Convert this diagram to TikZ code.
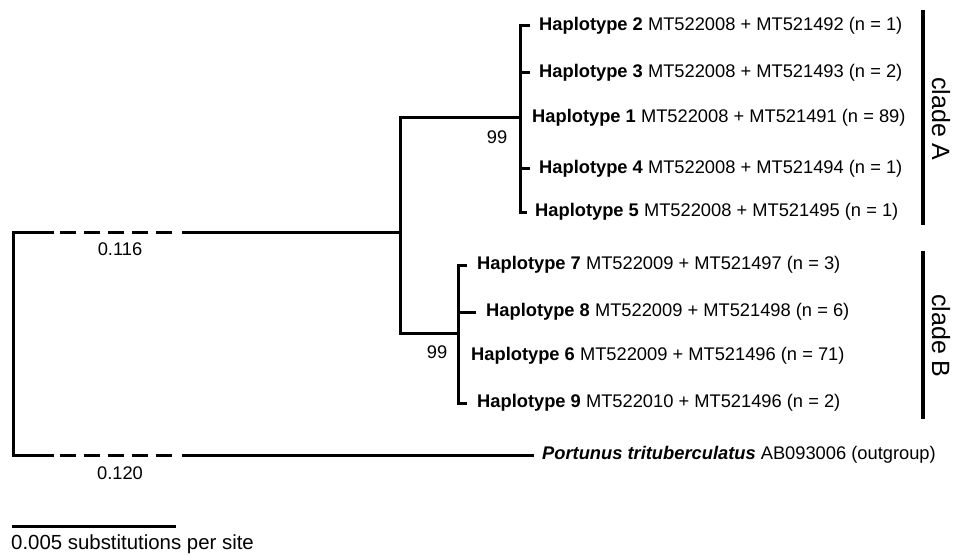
\documentclass[tikz,border=0pt]{standalone}
\usepackage{fontspec}
\setmainfont{Liberation Sans}
\usetikzlibrary{positioning}

\begin{document}
\begin{tikzpicture}[x = 1pt, y = -1pt,
		branch/.style = {line width = 3pt},
		broken/.style = {line width = 3pt, dash pattern = on 16pt off 8pt},
		cladebar/.style = {line width = 4.5pt},
		leaf/.style = {inner sep = 0pt, font = \fontsize{18.3}{22}\selectfont},
		txt/.style = {inner sep = 0pt, font = \fontsize{18.3}{22}\selectfont},
		cladelab/.style = {inner sep = 0pt, rotate = -90, font = \fontsize{25}{29}\selectfont}]
		\useasboundingbox (0, 0) rectangle (955, 556);
		%%%%%%%%%%%%%
		\coordinate (rt) at (13, 232);
		\coordinate (rb) at (13, 455);
		\coordinate (a1) at (54, 232); \coordinate (a2) at (60, 232);
		\coordinate (a3) at (172, 232); \coordinate (a4) at (182, 232);
		\coordinate (b1) at (54, 455); \coordinate (b2) at (60, 455);
		\coordinate (b3) at (172, 455); \coordinate (b4) at (182, 455);
		\coordinate (ing) at (400, 232);
		\coordinate (ca) at (520, 118);
		\coordinate (cb) at (458, 333);
		%%%%%%%%%%%%%
		\coordinate (t2) at (530, 26);
		\coordinate (t3) at (530, 73);
		\coordinate (t1) at (520, 118);
		\coordinate (t4) at (530, 169);
		\coordinate (t5) at (527, 212);
		\coordinate (t7) at (467, 265);
		\coordinate (t8) at (476, 312);
		\coordinate (t6) at (458, 356);
		\coordinate (t9) at (467, 403);
		\coordinate (tog) at (534, 455);
		%%%%%%%%%%%%%
		\draw [branch] (a1) -- (rt) -- (rb) -- (b1);
		\draw [broken] (a2) to (a3); \draw [broken] (b2) to (b3);
		\draw [branch] (a4) to (ing); \draw [branch] (b4) to (tog);
		\draw [branch] (ca) -| (ing) |- (cb);
		\draw [branch] (t2) -| (ca) |- (t5);
		\draw [branch] (ca) |- (t3); \draw [branch] (ca) |- (t4);
		\draw [branch] (t7) -| (cb) |- (t9);
		\draw [branch] (cb) |- (t8);
		%%%%%%%%%%%%%
		\node [leaf, right = 9pt of t2] (l2) {\textbf{Haplotype 2} MT522008 + MT521492 (n = 1)};
		\node [leaf, right = 9pt of t3] (l3) {\textbf{Haplotype 3} MT522008 + MT521493 (n = 2)};
		\node [leaf, right = 12pt of t1] (l1) {\textbf{Haplotype 1} MT522008 + MT521491 (n = 89)};
		\node [leaf, right = 9pt of t4] (l4) {\textbf{Haplotype 4} MT522008 + MT521494 (n = 1)};
		\node [leaf, right = 8pt of t5] (l5) {\textbf{Haplotype 5} MT522008 + MT521495 (n = 1)};
		\node [leaf, right = 10pt of t7] (l7) {\textbf{Haplotype 7} MT522009 + MT521497 (n = 3)};
		\node [leaf, right = 10pt of t8] (l8) {\textbf{Haplotype 8} MT522009 + MT521498 (n = 6)};
		\node [leaf, right = 13pt of t6] (l6) {\textbf{Haplotype 6} MT522009 + MT521496 (n = 71)};
		\node [leaf, right = 10pt of t9] (l9) {\textbf{Haplotype 9} MT522010 + MT521496 (n = 2)};
		\node [leaf, right = 8pt of tog] (log) {\textbf{\textit{Portunus trituberculatus}} AB093006 (outgroup)};
		%%%%%%%%%%%%%
		\node [txt] (bsA) at (497, 137) {99};
		\node [txt] (bsB) at (437, 352) {99};
		\node [txt] (lenA) at (120, 249) {0.116};
		\node [txt] (lenB) at (120, 473) {0.120};
		%%%%%%%%%%%%%
		\coordinate (cAt) at (923, 10); \coordinate (cAb) at (923, 225);
		\coordinate (cBt) at (923, 251); \coordinate (cBb) at (923, 419);
		\draw [cladebar] (cAt) to (cAb);
		\draw [cladebar] (cBt) to (cBb);
		\node [cladelab] (labA) at (941, 119) {clade A};
		\node [cladelab] (labB) at (941, 336) {clade B};
		%%%%%%%%%%%%%
		\coordinate (s1) at (12, 526); \coordinate (s2) at (176, 526);
		\draw [branch] (s1) to (s2);
		\node [txt, anchor = west, font = \fontsize{20.4}{24}\selectfont] (scl) at (11, 544) {0.005 substitutions per site};
\end{tikzpicture}
\end{document}
